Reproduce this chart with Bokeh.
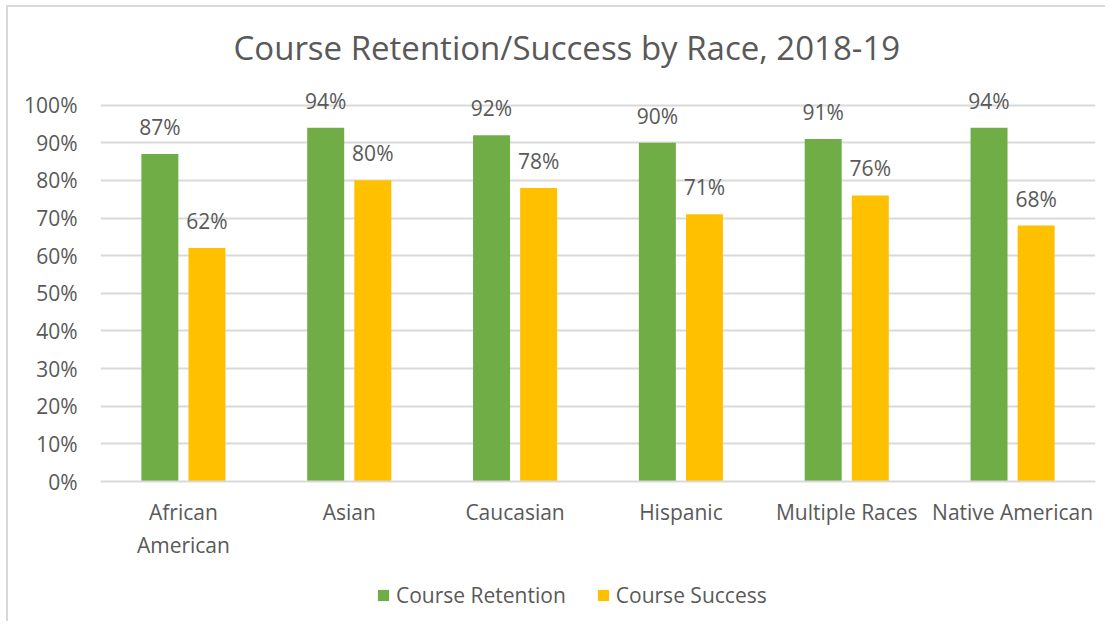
from bokeh.plotting import figure
from bokeh.layouts import column
from bokeh.models import (ColumnDataSource, FactorRange, Range1d, FixedTicker,
                          NumeralTickFormatter, Legend, LegendItem)
from bokeh.transform import dodge
from bokeh.core.properties import value
from bokeh.embed import file_html
from bokeh.resources import INLINE

# ---- data ----
categories = ["African\nAmerican", "Asian", "Caucasian", "Hispanic",
              "Multiple Races", "Native American"]
retention = [87, 94, 92, 90, 91, 94]
success = [62, 80, 78, 71, 76, 68]
y_ticks = [0, 10, 20, 30, 40, 50, 60, 70, 80, 90, 100]
series_names = ["Course Retention", "Course Success"]

FONT = "Open Sans"
TXT = "#595959"
GREEN = "#70AD47"
GOLD = "#FFC000"
FS = "21px"

src = ColumnDataSource(dict(
    cat=categories,
    ret=[v / 100 for v in retention],
    suc=[v / 100 for v in success],
    ret_lbl=[f"{v}%" for v in retention],
    suc_lbl=[f"{v}%" for v in success],
))

p = figure(width=1097, height=570, output_backend="svg", toolbar_location=None,
           x_range=FactorRange(*categories), y_range=Range1d(0, 1.06),
           min_border_left=92, min_border_right=10, min_border_bottom=96,
           min_border_top=75)

p.title.text = "Course Retention/Success by Race, 2018-19"
p.title.align = "left"
p.title.offset = 133
p.title.standoff = 25
p.title.text_font = FONT
p.title.text_font_size = "33px"
p.title.text_font_style = "normal"
p.title.text_color = TXT

p.outline_line_color = None
p.background_fill_color = "white"
p.border_fill_color = "white"

r1 = p.vbar(x=dodge("cat", -0.142, range=p.x_range), top="ret", width=0.223,
            source=src, fill_color=GREEN, line_color=None)
r2 = p.vbar(x=dodge("cat", 0.142, range=p.x_range), top="suc", width=0.223,
            source=src, fill_color=GOLD, line_color=None)

for col, lbl, off in (("ret", "ret_lbl", -0.142), ("suc", "suc_lbl", 0.142)):
    p.text(x=dodge("cat", off, range=p.x_range), y=col, text=lbl, source=src,
           text_align="center", text_baseline="bottom", y_offset=-13,
           text_font=value(FONT), text_font_size=FS, text_color=TXT)

# axes
p.yaxis.ticker = FixedTicker(ticks=[t / 100 for t in y_ticks])
p.yaxis.formatter = NumeralTickFormatter(format="0%")
p.yaxis.axis_line_color = None
p.yaxis.major_tick_line_color = None
p.yaxis.minor_tick_line_color = None
p.yaxis.major_label_text_font = FONT
p.yaxis.major_label_text_font_size = FS
p.yaxis.major_label_text_color = TXT
p.yaxis.major_label_standoff = 17

p.xaxis.axis_line_color = "#D9D9D9"
p.xaxis.axis_line_width = 2
p.xaxis.major_tick_line_color = None
p.xaxis.minor_tick_line_color = None
p.xaxis.major_label_text_font = FONT
p.xaxis.major_label_text_font_size = FS
p.xaxis.major_label_text_color = TXT
p.xaxis.major_label_standoff = 10

p.xgrid.grid_line_color = None
p.ygrid.grid_line_color = "#D9D9D9"
p.ygrid.grid_line_width = 2
p.ygrid.ticker = FixedTicker(ticks=[t / 100 for t in y_ticks])

# ---- legend strip below the chart (zero-height swatch renderers) ----
lf = figure(width=1097, height=44, output_backend="svg", toolbar_location=None,
            min_border=0, x_range=Range1d(0, 1), y_range=Range1d(0, 1))
lf.axis.visible = False
lf.grid.visible = False
lf.outline_line_color = None
lr1 = lf.vbar(x=[0.5], top=[0], bottom=0, width=0.0, fill_color=GREEN,
              line_color=None)
lr2 = lf.vbar(x=[0.5], top=[0], bottom=0, width=0.0, fill_color=GOLD,
              line_color=None)
legend = Legend(items=[LegendItem(label=series_names[0], renderers=[lr1]),
                       LegendItem(label=series_names[1], renderers=[lr2])],
                orientation="horizontal", location=(276, 12),
                label_text_font=FONT, label_text_font_size=FS,
                label_text_color=TXT, glyph_width=14, glyph_height=14,
                spacing=30, border_line_color=None, margin=0, padding=0,
                label_standoff=6, background_fill_alpha=0)
lf.add_layout(legend, "center")

layout = column(p, lf, spacing=0, margin=(5, 0, 0, 6),
                styles={"border-top": "2px solid #D9D9D9",
                        "border-left": "2px solid #D9D9D9"})

open("out.html", "w").write(file_html(layout, INLINE))
